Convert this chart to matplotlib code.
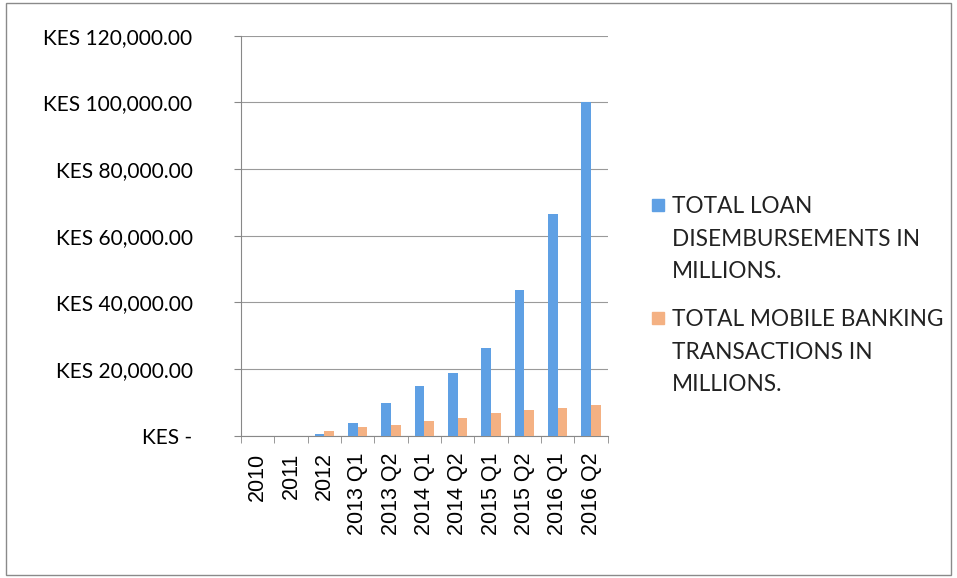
import matplotlib.pyplot as plt
import numpy as np
from matplotlib.patches import Rectangle
from matplotlib.ticker import FuncFormatter, FixedLocator

plt.rcParams['font.family'] = ['Lato', 'DejaVu Sans']

# data (KES millions)
periods = ['2010', '2011', '2012', '2013 Q1', '2013 Q2', '2014 Q1',
           '2014 Q2', '2015 Q1', '2015 Q2', '2016 Q1', '2016 Q2']
loans = [0, 0, 600, 3700, 9900, 15000, 18900, 26400, 43800, 66600, 100000]
mobile = [0, 0, 1400, 2600, 3200, 4500, 5400, 6700, 7800, 8400, 9100]

loan_label = 'TOTAL LOAN\nDISEMBURSEMENTS IN\nMILLIONS.'
mobile_label = 'TOTAL MOBILE BANKING\nTRANSACTIONS IN\nMILLIONS.'
loan_color = '#5fa0e4'
mobile_color = '#f4b183'

fig = plt.figure(figsize=(9.57, 5.78), dpi=100)
ax = fig.add_axes([0.252, 0.246, 0.383, 0.692])

x = np.arange(len(periods))
w = 0.29
ax.bar(x - w / 2, loans, w, color=loan_color, zorder=3)
ax.bar(x + w / 2, mobile, w, color=mobile_color, zorder=3)

ax.set_xlim(-0.5, len(periods) - 0.5)
ax.set_ylim(0, 120000)
ax.set_yticks(np.arange(0, 120001, 20000))


def kes(v, pos):
    if v == 0:
        return 'KES -'
    return 'KES {:,.2f}'.format(v)


ax.yaxis.set_major_formatter(FuncFormatter(kes))
ax.set_xticks(x)
ax.set_xticklabels(periods, rotation=90, fontsize=15.5,
                   family=['Liberation Sans', 'DejaVu Sans'])
ax.xaxis.set_minor_locator(FixedLocator(np.arange(-0.5, len(periods), 1)))
ax.tick_params(axis='x', which='major', length=0, pad=12)
ax.tick_params(axis='x', which='minor', length=5, color='#888888')
ax.tick_params(axis='y', length=5, color='#888888', labelsize=15, pad=30)

ax.grid(axis='y', color='#9a9a9a', linewidth=0.8, zorder=0)
for s in ['top', 'right']:
    ax.spines[s].set_visible(False)
for s in ['left', 'bottom']:
    ax.spines[s].set_color('#888888')

# legend: square beside the first line of each label
W, H = 957, 578
for label, color, ytop in [(loan_label, loan_color, 196),
                           (mobile_label, mobile_color, 309)]:
    fig.patches.append(Rectangle((652 / W, 1 - (ytop + 15) / H), 12 / W, 12 / H,
                                 transform=fig.transFigure, color=color))
    fig.text(672 / W, 1 - ytop / H, label, fontsize=16.3, va='top', ha='left',
             linespacing=1.68, color='#222222')

fig.patches.append(Rectangle((0.006, 0.006), 0.988, 0.988, transform=fig.transFigure,
                             fill=False, edgecolor='#8a8a8a', linewidth=1))

fig.savefig('out.png', dpi=100)
